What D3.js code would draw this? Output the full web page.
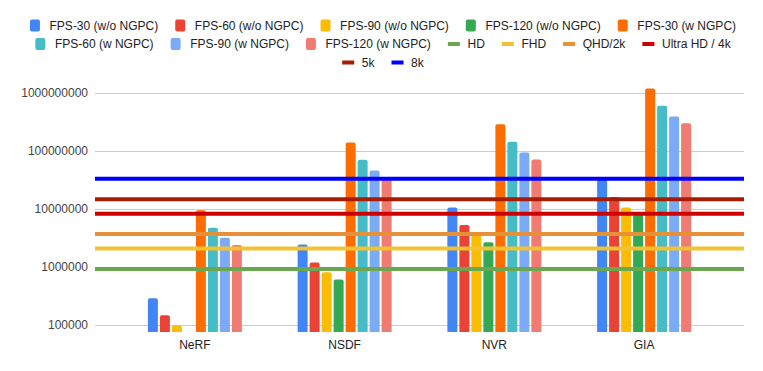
<!DOCTYPE html>
<html>
<head>
<meta charset="utf-8">
<script src="https://cdn.jsdelivr.net/npm/d3@7"></script>
<style>
  body { margin: 0; background: #fff; }
  svg { display: block; font-family: "Liberation Sans", Arial, sans-serif; }
</style>
</head>
<body>
<svg id="drawing_region"></svg>
<script>
// categories on the x axis
const categories = ['NeRF', 'NSDF', 'NVR', 'GIA']

// bar series
const seriesNames = ['FPS-30 (w/o NGPC)', 'FPS-60 (w/o NGPC)', 'FPS-90 (w/o NGPC)', 'FPS-120 (w/o NGPC)',
    'FPS-30 (w NGPC)', 'FPS-60 (w NGPC)', 'FPS-90 (w NGPC)', 'FPS-120 (w NGPC)']
const fps30_wo = [290000, 2450000, 10600000, 32000000]
const fps60_wo = [147000, 1200000, 5300000, 16000000]
const fps90_wo = [98000, 810000, 3500000, 10600000]
const fps120_wo = [73000, 610000, 2660000, 8000000]
const fps30_w = [9500000, 140000000, 286000000, 1190000000]
const fps60_w = [4750000, 70000000, 143000000, 600000000]
const fps90_w = [3200000, 46000000, 94000000, 390000000]
const fps120_w = [2400000, 35000000, 71000000, 300000000]
const seriesValues = [fps30_wo, fps60_wo, fps90_wo, fps120_wo, fps30_w, fps60_w, fps90_w, fps120_w]
const barColors = ['#4285f4', '#ea4335', '#fbbc04', '#34a853', '#ff6d01', '#46bdc6', '#7baaf7', '#f07b72']

// resolution reference lines (pixel counts)
const lineNames = ['HD', 'FHD', 'QHD/2k', 'Ultra HD / 4k', '5k', '8k']
const lineValues = [921600, 2073600, 3686400, 8294400, 14745600, 33177600]
const lineColors = ['#6aa84f', '#f1c232', '#e69138', '#cc0000', '#a61c00', '#0000ff']

// y tick labels
const yTicks = [100000, 1000000, 10000000, 100000000, 1000000000]

class LogBarChart {
    constructor(config) {
        this.config = config
        this.init()
    }

    init() {
        let self = this
        const c = self.config
        self.svg = d3.select(c.parent).attr('width', c.width).attr('height', c.height)
        self.svg.append('rect').attr('width', c.width).attr('height', c.height).attr('fill', '#fff')

        self.xscale = d3.scaleBand().domain(categories)
            .range([c.left, c.right]).paddingInner(0).paddingOuter(0.167)
        self.inner = d3.scaleBand().domain(d3.range(seriesNames.length))
            .range([(self.xscale.bandwidth() - 94) / 2, (self.xscale.bandwidth() + 94) / 2])
            .paddingInner(1 / 6).paddingOuter(0)
        self.yscale = d3.scaleLog().domain([76000, 1e9]).range([c.bottom, 92.8])

        self.grid = self.svg.append('g')
        self.bars = self.svg.append('g')
        self.lines = self.svg.append('g')
        self.axes = self.svg.append('g')
        self.legend = self.svg.append('g')
    }

    render() {
        let self = this
        const c = self.config
        const y = self.yscale
        const base = y.range()[0]

        // gridlines + y labels
        self.grid.selectAll('line').data(yTicks).join('line')
            .attr('x1', c.left).attr('x2', c.right)
            .attr('y1', d => Math.round(y(d)) + 0.5).attr('y2', d => Math.round(y(d)) + 0.5)
            .attr('stroke', '#cccccc').attr('stroke-width', 1)
        self.axes.selectAll('text.ylab').data(yTicks).join('text').attr('class', 'ylab')
            .attr('x', c.left - 7).attr('y', d => y(d) + 4.3)
            .attr('text-anchor', 'end').attr('font-size', 12).attr('fill', '#444')
            .text(d => d3.format('d')(d))

        // bars with rounded tops
        const rows = []
        categories.forEach((cat, ci) => {
            seriesValues.forEach((vals, si) => {
                rows.push({cat: cat, si: si, v: vals[ci]})
            })
        })
        self.bars.selectAll('path').data(rows).join('path')
            .attr('fill', d => barColors[d.si])
            .attr('d', d => {
                const x0 = self.xscale(d.cat) + self.inner(d.si)
                const w = self.inner.bandwidth()
                const top = Math.min(y(d.v), base)
                const h = base - top
                if (h <= 0) return null
                const r = Math.min(2, h)
                return `M${x0},${base}V${top + r}Q${x0},${top} ${x0 + r},${top}H${x0 + w - r}Q${x0 + w},${top} ${x0 + w},${top + r}V${base}Z`
            })

        // resolution lines
        self.lines.selectAll('line').data(lineValues).join('line')
            .attr('x1', c.left).attr('x2', c.right)
            .attr('y1', d => y(d)).attr('y2', d => y(d))
            .attr('stroke', (d, i) => lineColors[i]).attr('stroke-width', 4)

        // x labels
        self.axes.selectAll('text.xlab').data(categories).join('text').attr('class', 'xlab')
            .attr('x', d => self.xscale(d) + self.xscale.bandwidth() / 2).attr('y', 349.3)
            .attr('text-anchor', 'middle').attr('font-size', 12).attr('fill', '#222')
            .text(d => d)

        self.renderLegend()
    }

    renderLegend() {
        let self = this
        const items = seriesNames.map((n, i) => ({name: n, color: barColors[i], kind: 'bar'}))
            .concat(lineNames.map((n, i) => ({name: n, color: lineColors[i], kind: 'line'})))
        const gap = 17, maxW = 720, rowH = 18.5, firstRow = 25.5
        const rows = [[]]
        let rowW = 0
        items.forEach(it => {
            const g = self.legend.append('g')
            if (it.kind === 'bar') {
                g.append('rect').attr('x', 0).attr('y', -6).attr('width', 10).attr('height', 12)
                    .attr('rx', 2).attr('fill', it.color)
            } else {
                g.append('rect').attr('x', 0).attr('y', -2).attr('width', 12).attr('height', 4)
                    .attr('fill', it.color)
            }
            const t = g.append('text').attr('x', 19.6).attr('y', 4.3)
                .attr('font-size', 12).attr('fill', '#222').text(it.name)
            const w = 19.6 + t.node().getComputedTextLength()
            const need = rows[rows.length - 1].length ? rowW + gap + w : w
            if (need > maxW && rows[rows.length - 1].length) {
                rows.push([])
                rowW = w
            } else {
                rowW = need
            }
            rows[rows.length - 1].push({g: g, w: w})
        })
        rows.forEach((row, ri) => {
            const total = d3.sum(row, d => d.w) + gap * (row.length - 1)
            let x = self.config.width / 2 + 1.5 - total / 2
            row.forEach(d => {
                d.g.attr('transform', `translate(${x},${firstRow + ri * rowH})`)
                x += d.w + gap
            })
        })
    }
}

const chart = new LogBarChart({
    parent: '#drawing_region',
    width: 763,
    height: 371,
    left: 95,
    right: 744,
    bottom: 332
})
chart.render()
</script>
</body>
</html>
